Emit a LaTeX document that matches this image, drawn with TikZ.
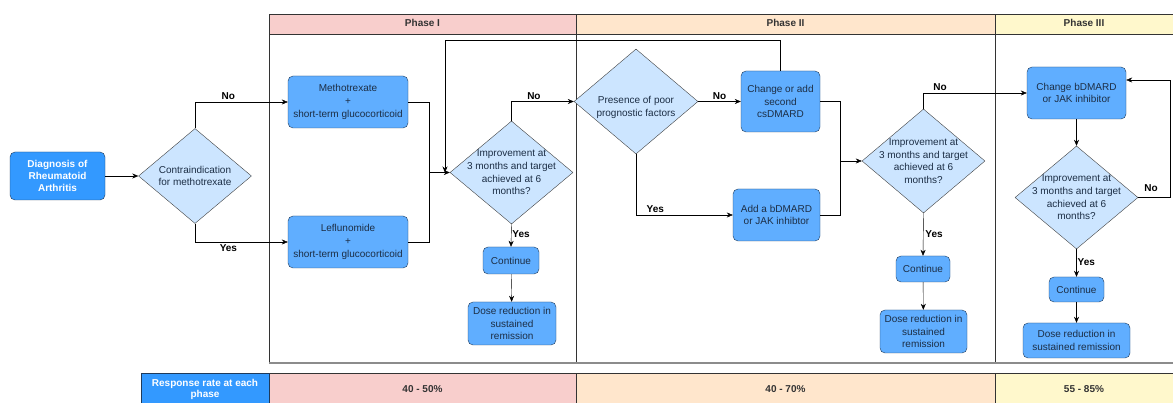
\documentclass[tikz,border=0pt]{standalone}
\usepackage{fontspec}
\setmainfont{Liberation Sans}
\usetikzlibrary{shapes.geometric,arrows.meta}

\definecolor{phaseone}{HTML}{F8CECC}
\definecolor{phasetwo}{HTML}{FFE6CC}
\definecolor{phasethree}{HTML}{FFF8CC}
\definecolor{deepblue}{HTML}{3399FF}
\definecolor{drugblue}{HTML}{60AEFF}
\definecolor{askblue}{HTML}{CCE5FF}
\definecolor{edgenavy}{HTML}{1F3A5A}
\definecolor{inknavy}{HTML}{1C2E45}

\tikzset{
  startbox/.style={draw=edgenavy,fill=deepblue,rounded corners=5pt,text=white,
    font=\fontsize{10}{12}\selectfont\bfseries,align=center,inner sep=1pt},
  drugbox/.style={draw=edgenavy,fill=drugblue,rounded corners=5pt,text=inknavy,
    align=center,inner sep=1pt},
  askbox/.style={diamond,draw=black!75,fill=askblue,inner sep=0pt},
  asktext/.style={text=inknavy,align=center,inner sep=0pt},
  choice/.style={font=\fontsize{10}{12}\selectfont\bfseries,inner sep=2pt},
  band/.style={draw=black!80},
  bandtext/.style={font=\fontsize{10}{12}\selectfont\bfseries,text=black!80},
}

\begin{document}
\begin{tikzpicture}[x=1pt,y=-1pt,>={Stealth[length=6pt,width=5pt]},
  every node/.append style={font=\fontsize{10}{12.6}\selectfont}]
   \useasboundingbox (0,0) rectangle (1173,403);
   % phase headers and frame
   \draw[band,fill=phaseone] (269,14) rectangle (576,34);
   \draw[band,fill=phasetwo] (576,14) rectangle (995,34);
   \draw[band,fill=phasethree] (995,14) rectangle (1176,34);
   \node[bandtext] (hone) at (422.5,23) {Phase I};
   \node[bandtext] (htwo) at (785.5,23) {Phase II};
   \node[bandtext] (hthree) at (1084,23) {Phase III};
   \draw[black!80] (269,34) rectangle (1176,363);
   \draw[black!80] (576,34) -- (576,363);
   \draw[black!80] (995,34) -- (995,363);
   \draw[black!45,line width=1.2pt] (269,363) -- (1176,363);
   % response rates
   \draw[band,fill=phaseone] (269,373) rectangle (576,406);
   \draw[band,fill=phasetwo] (576,373) rectangle (995,406);
   \draw[band,fill=phasethree] (995,373) rectangle (1176,406);
   \draw[edgenavy,fill=deepblue] (141,373) rectangle (269,406);
   \node[text=white,align=center,font=\fontsize{10}{11}\selectfont\bfseries] (rate) at (205,389)
     {Response rate at each\\phase};
   \node[bandtext] (rone) at (422.5,389) {40 - 50\%};
   \node[bandtext] (rtwo) at (785.5,389) {40 - 70\%};
   \node[bandtext] (rthree) at (1084,389) {55 - 85\%};
   % phase I
   \node[startbox,minimum width=95,minimum height=48] (diag) at (57.5,176)
     {Diagnosis of\\Rheumatoid\\Arthritis};
   \node[askbox,minimum width=113,minimum height=95,
     label={[asktext]center:{Contraindication\\for methotrexate}}] (contra) at (195,176) {};
   \node[drugbox,minimum width=120,minimum height=52] (mtx) at (348,102)
     {Methotrexate\\+\\short-term glucocorticoid};
   \node[drugbox,minimum width=120,minimum height=52] (lef) at (348,242)
     {Leflunomide\\+\\short-term glucocorticoid};
   \node[askbox,minimum width=123,minimum height=103,
     label={[asktext]center:{Improvement at\\3 months and target\\achieved at 6\\months?}}] (askone) at (511.5,172.5) {};
   \node[drugbox,minimum width=56,minimum height=27] (contone) at (511,260.5) {Continue};
   \node[drugbox,minimum width=88,minimum height=43] (doseone) at (512,323.5)
     {Dose reduction in\\sustained\\remission};
   % phase II
   \node[askbox,minimum width=124,minimum height=105,
     label={[asktext,yshift=-6pt]center:{Presence of poor\\prognostic factors}}] (prog) at (636,101.5) {};
   \node[drugbox,minimum width=79,minimum height=61] (chg) at (780.5,101.5)
     {Change or add\\second\\csDMARD};
   \node[drugbox,minimum width=87,minimum height=52] (bdm) at (776.5,215)
     {Add a bDMARD\\or JAK inhibtor};
   \node[askbox,minimum width=123,minimum height=104,
     label={[asktext]center:{Improvement at\\3 months and target\\achieved at 6\\months?}}] (asktwo) at (923.5,161) {};
   \node[drugbox,minimum width=54,minimum height=26] (conttwo) at (923,269) {Continue};
   \node[drugbox,minimum width=87,minimum height=43] (dosetwo) at (923.5,331.5)
     {Dose reduction in\\sustained\\remission};
   % phase III
   \node[drugbox,minimum width=99,minimum height=52] (swap) at (1076.5,93)
     {Change bDMARD\\or JAK inhibitor};
   \node[askbox,minimum width=123,minimum height=103,
     label={[asktext]center:{Improvement at\\3 months and target\\achieved at 6\\months?}}] (askthree) at (1076.5,197.5) {};
   \node[drugbox,minimum width=55,minimum height=25] (contthree) at (1076.5,289.5) {Continue};
   \node[drugbox,minimum width=107,minimum height=35] (dosethree) at (1076.5,340.5)
     {Dose reduction in\\sustained remission};
   % junctions
   \coordinate (joinone) at (429,172.5);
   \coordinate (loopone) at (445,40);
   \coordinate (jointwo) at (840,161);
   \coordinate (loopthree) at (1170,80);
   % connectors
   \draw[->] (diag) -- (contra);
   \draw[->] (contra.north) |- (mtx.west) node[choice,pos=0.68,above] {No};
   \draw[->] (contra.south) |- (lef.west) node[choice,pos=0.68,below] {Yes};
   \draw (mtx.east) -| (joinone);
   \draw (lef.east) -| (joinone);
   \draw[->] (joinone) -- (askone.west);
   \draw[->] (chg.north) |- (loopone) -- (loopone |- askone.west);
   \draw[->] (askone.north) |- (prog.west) node[choice,pos=0.68,above] {No};
   \draw[->] (askone.south) -- (contone.north) node[choice,pos=0.45,right,inner sep=1pt] {Yes};
   \draw[->] (contone) -- (doseone);
   \draw[->] (prog.east) -- (chg.west) node[choice,midway,above] {No};
   \draw[->] (prog.south) |- (bdm.west) node[choice,pos=0.6,above] {Yes};
   \draw (chg.east) -| (jointwo);
   \draw (bdm.east) -| (jointwo);
   \draw[->] (jointwo) -- (asktwo.west);
   \draw[->] (asktwo.north) |- (swap.west) node[choice,pos=0.58,above] {No};
   \draw[->] (asktwo.south) -- (conttwo.north) node[choice,pos=0.5,right] {Yes};
   \draw[->] (conttwo) -- (dosetwo);
   \draw[->] (swap) -- (askthree);
   \draw[->] (askthree.east) -| (loopthree) -- (loopthree -| swap.east);
   \node[choice] (nothree) at (1151,188) {No};
   \draw[->] (askthree.south) -- (contthree.north) node[choice,pos=0.45,right,inner sep=1pt] {Yes};
   \draw[->] (contthree) -- (dosethree);
  \end{tikzpicture}
\end{document}
